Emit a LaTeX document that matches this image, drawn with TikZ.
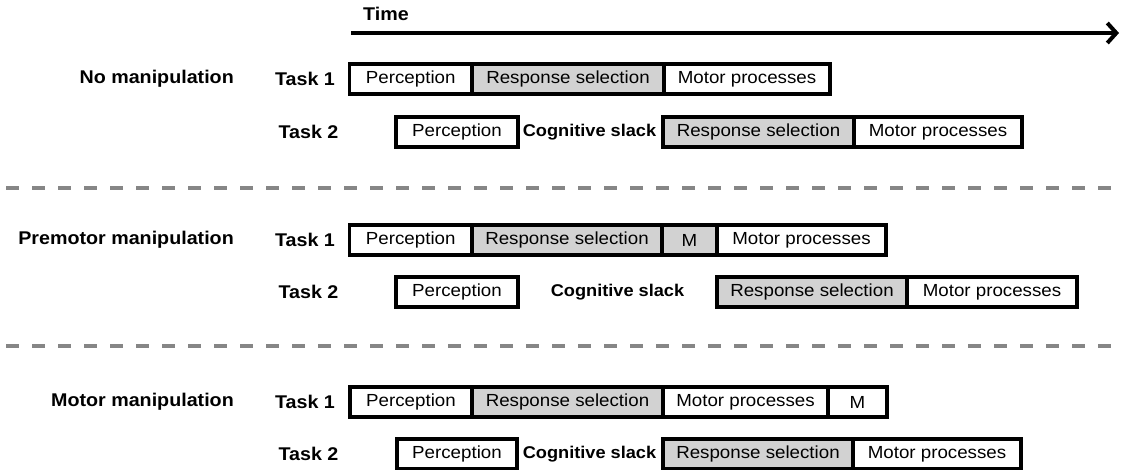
\documentclass[tikz,border=0pt]{standalone}
\usepackage{fontspec}
\setmainfont{Liberation Sans}[FakeStretch=1.07]
\usetikzlibrary{arrows.meta}
\tikzset{
  cell/.style={draw, line width=3.2pt, minimum height=30pt, inner sep=0pt, fill=white,
    font=\fontsize{17.5}{19}\selectfont},
  graycell/.style={cell, fill=gray!35},
  lbl/.style={font=\bfseries\fontsize{18.4}{20}\selectfont, inner sep=0pt},
  slack/.style={font=\bfseries\fontsize{17}{19}\selectfont, inner sep=0pt},
  sep/.style={draw=gray!95, line width=3.2pt, dash pattern=on 13pt off 13pt},
}
\begin{document}
\begin{tikzpicture}[x=1pt,y=-1pt]
\useasboundingbox (0,0) rectangle (1122,469);
% time axis
\node[lbl] (time) at (386,14) {Time};
\coordinate (t0) at (351,33);
\coordinate (t1) at (1119,33);
\draw[line width=4pt, -{Straight Barb[length=9pt,width=20pt,line width=4pt]}] (t0) -- (t1);

% separators
\coordinate (s1a) at (6,188); \coordinate (s1b) at (1112,188);
\coordinate (s2a) at (6,346); \coordinate (s2b) at (1112,346);
\draw[sep] (s1a) -- (s1b);
\draw[sep] (s2a) -- (s2b);

% ---- No manipulation
\node[lbl, anchor=east] (c1) at (234,79) {No manipulation};
\node[lbl] (c1t1) at (305,79) {Task 1};
\node[lbl] (c1t2) at (308.5,132) {Task 2};
\node[cell, minimum width=122.5pt] (a1p) at (410.75,79) {Perception};
\node[graycell, minimum width=192pt] (a1r) at (568,79) {Response selection};
\node[cell, minimum width=166pt] (a1m) at (747,79) {Motor processes};
\node[cell, minimum width=122pt] (a2p) at (457,132) {Perception};
\node[slack] (a2s) at (589.5,132) {Cognitive slack};
\node[graycell, minimum width=191pt] (a2r) at (758.5,132) {Response selection};
\node[cell, minimum width=168pt] (a2m) at (938,132) {Motor processes};

% ---- Premotor manipulation
\node[lbl, anchor=east] (c2) at (234,240) {Premotor manipulation};
\node[lbl] (c2t1) at (305,240) {Task 1};
\node[lbl] (c2t2) at (308.5,292) {Task 2};
\node[cell, minimum width=122.5pt] (b1p) at (410.75,240) {Perception};
\node[graycell, minimum width=190pt] (b1r) at (567,240) {Response selection};
\node[graycell, minimum width=55pt] (b1x) at (689.5,240) {M};
\node[cell, minimum width=169pt] (b1m) at (801.5,240) {Motor processes};
\node[cell, minimum width=122pt] (b2p) at (457,292) {Perception};
\node[slack] (b2s) at (617.5,292) {Cognitive slack};
\node[graycell, minimum width=190pt] (b2r) at (812,292) {Response selection};
\node[cell, minimum width=170pt] (b2m) at (992,292) {Motor processes};

% ---- Motor manipulation
\node[lbl, anchor=east] (c3) at (234,402) {Motor manipulation};
\node[lbl] (c3t1) at (305,402) {Task 1};
\node[lbl] (c3t2) at (308.5,454) {Task 2};
\node[cell, minimum width=122pt] (m1p) at (411,402) {Perception};
\node[graycell, minimum width=191pt] (m1r) at (567.5,402) {Response selection};
\node[cell, minimum width=165pt] (m1m) at (745.5,402) {Motor processes};
\node[cell, minimum width=59pt] (m1x) at (857.5,402) {M};
\node[cell, minimum width=120pt] (m2p) at (457,454) {Perception};
\node[slack] (m2s) at (589.5,454) {Cognitive slack};
\node[graycell, minimum width=190pt] (m2r) at (758,454) {Response selection};
\node[cell, minimum width=168pt] (m2m) at (937,454) {Motor processes};
\end{tikzpicture}
\end{document}
